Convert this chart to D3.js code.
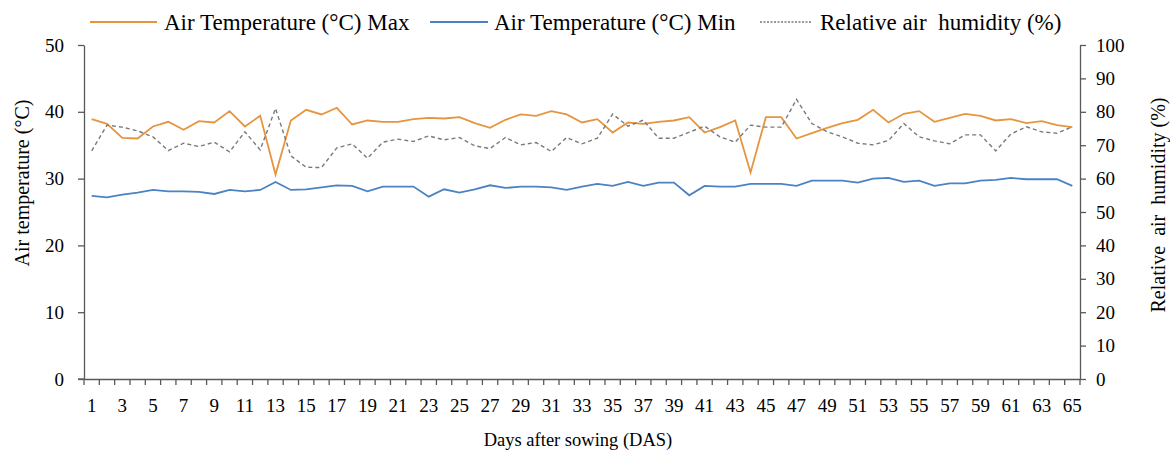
<!DOCTYPE html>
<html>
<head>
<meta charset="utf-8">
<script src="https://cdn.jsdelivr.net/npm/d3@7"></script>
<style>
  body { margin: 0; background: #fff; }
</style>
</head>
<body>
<svg class="chart" width="1170" height="451"></svg>
<script>
const days = d3.range(1, 66);
const tempMax = [38.9, 38.2, 36.1, 36.0, 37.8, 38.5, 37.3, 38.6, 38.4, 40.1,
    37.8, 39.4, 30.6, 38.7, 40.3, 39.6, 40.6, 38.1, 38.7, 38.5,
    38.5, 38.9, 39.1, 39.0, 39.2, 38.3, 37.6, 38.8, 39.6, 39.4,
    40.1, 39.6, 38.4, 38.9, 36.9, 38.4, 38.2, 38.5, 38.7, 39.2,
    36.9, 37.7, 38.7, 30.9, 39.2, 39.2, 36.0, 36.8, 37.6, 38.3,
    38.8, 40.3, 38.4, 39.7, 40.1, 38.5, 39.1, 39.7, 39.4, 38.7,
    38.9, 38.3, 38.6, 38.0, 37.7];
const tempMin = [27.4, 27.2, 27.6, 27.9, 28.3, 28.1, 28.1, 28.0, 27.7, 28.3,
    28.1, 28.3, 29.5, 28.3, 28.4, 28.7, 29.0, 28.9, 28.1, 28.8,
    28.8, 28.8, 27.3, 28.4, 27.9, 28.4, 29.0, 28.6, 28.8, 28.8,
    28.7, 28.3, 28.8, 29.2, 28.9, 29.5, 28.9, 29.4, 29.4, 27.5,
    28.9, 28.8, 28.8, 29.2, 29.2, 29.2, 28.9, 29.7, 29.7, 29.7,
    29.4, 30.0, 30.1, 29.5, 29.7, 28.9, 29.3, 29.3, 29.7, 29.8,
    30.1, 29.9, 29.9, 29.9, 28.9];
const humidity = [68.3, 76.0, 75.4, 74.3, 72.5, 68.4, 70.6, 69.6, 70.9, 68.0,
    74.0, 68.6, 81.0, 66.8, 63.4, 63.3, 69.2, 70.4, 66.1, 70.9,
    71.8, 71.1, 72.8, 71.6, 72.3, 69.8, 69.0, 72.3, 70.1, 70.8,
    68.1, 72.3, 70.4, 72.1, 79.3, 75.7, 77.5, 72.1, 72.1, 73.9,
    75.7, 72.5, 70.9, 76.0, 75.4, 75.4, 83.7, 76.5, 74.0, 72.5,
    70.6, 70.1, 71.4, 76.5, 72.5, 71.3, 70.4, 73.1, 73.1, 68.3,
    73.4, 75.5, 74.0, 73.6, 75.5];
const tempTicks = [0, 10, 20, 30, 40, 50];
const humTicks = [0, 10, 20, 30, 40, 50, 60, 70, 80, 90, 100];
const legendNames = ['Air Temperature (°C) Max', 'Air Temperature (°C) Min',
    'Relative air \u00a0humidity (%)'];

const plotLeft = 84, plotRight = 1080, plotTop = 45, plotBottom = 379;
const axisColor = '#595959';
const font = "'Liberation Serif', 'DejaVu Serif', serif";

const svg = d3.select('.chart').style('font-family', font);

const x = d3.scaleBand().domain(days).range([plotLeft, plotRight]);
const yT = d3.scaleLinear().domain([0, 50]).range([plotBottom, plotTop]);
const yH = d3.scaleLinear().domain([0, 100]).range([plotBottom, plotTop]);

// axes
const leftAxis = svg.append('g')
    .attr('transform', `translate(${plotLeft},0)`)
    .call(d3.axisLeft(yT).tickValues(tempTicks).tickSize(6).tickSizeOuter(0).tickPadding(14));
const rightAxis = svg.append('g')
    .attr('transform', `translate(${plotRight},0)`)
    .call(d3.axisRight(yH).tickValues(humTicks).tickSize(6).tickSizeOuter(0).tickPadding(10));
const bottomAxis = svg.append('g')
    .attr('transform', `translate(0,${plotBottom})`)
    .call(d3.axisBottom(x).tickSize(0).tickPadding(20)
        .tickFormat(d => d % 2 === 1 ? d : ''));

[leftAxis, rightAxis, bottomAxis].forEach(g => {
    g.style('font-family', font).style('font-size', '19px');
    g.select('.domain').attr('stroke', axisColor).attr('stroke-width', 1.3);
    g.selectAll('.tick line').attr('stroke', axisColor).attr('stroke-width', 1.3);
    g.selectAll('text').attr('fill', '#000');
});

// category boundary ticks on the x axis
svg.append('g').selectAll('line')
    .data(days.concat([66]))
    .join('line')
    .attr('x1', d => d === 66 ? plotRight : x(d))
    .attr('x2', d => d === 66 ? plotRight : x(d))
    .attr('y1', plotBottom)
    .attr('y2', plotBottom + 6)
    .attr('stroke', axisColor)
    .attr('stroke-width', 1.3);
svg.append('line')
    .attr('x1', plotLeft - 6).attr('x2', plotLeft)
    .attr('y1', plotBottom).attr('y2', plotBottom)
    .attr('stroke', axisColor).attr('stroke-width', 1.3);

const cx = d => x(d) + x.bandwidth() / 2;

const series = [
    {values: tempMax, y: yT, color: '#E6953E', dash: null, width: 1.8},
    {values: tempMin, y: yT, color: '#4B82C3', dash: null, width: 1.8},
    {values: humidity, y: yH, color: '#7a7a7a', dash: '4,3', width: 1.4},
];

series.forEach(s => {
    const line = d3.line().x((d, i) => cx(days[i])).y(d => s.y(d));
    svg.append('path')
        .datum(s.values)
        .attr('fill', 'none')
        .attr('stroke', s.color)
        .attr('stroke-width', s.width)
        .attr('stroke-dasharray', s.dash)
        .attr('d', line);
});

// legend
const legendPos = [{x1: 90, x2: 157, tx: 164}, {x1: 430, x2: 488, tx: 494},
    {x1: 760, x2: 812, tx: 820}];
legendPos.forEach((p, i) => {
    const s = series[i];
    svg.append('line')
        .attr('x1', p.x1).attr('x2', p.x2).attr('y1', 22).attr('y2', 22)
        .attr('stroke', s.color).attr('stroke-width', s.width)
        .attr('stroke-dasharray', s.dash ? '2,1.5' : null);
    svg.append('text')
        .attr('x', p.tx).attr('y', 30)
        .style('font-size', '23px')
        .text(legendNames[i]);
});

// axis titles
svg.append('text')
    .attr('transform', 'translate(29,183) rotate(-90)')
    .attr('text-anchor', 'middle')
    .style('font-size', '20px')
    .text('Air temperature (°C)');
svg.append('text')
    .attr('transform', 'translate(1165,205) rotate(-90)')
    .attr('text-anchor', 'middle')
    .style('font-size', '20px')
    .text('Relative \u00a0air \u00a0humidity (%)');
svg.append('text')
    .attr('x', 578).attr('y', 446)
    .attr('text-anchor', 'middle')
    .style('font-size', '18.5px')
    .text('Days after sowing (DAS)');
</script>
</body>
</html>
